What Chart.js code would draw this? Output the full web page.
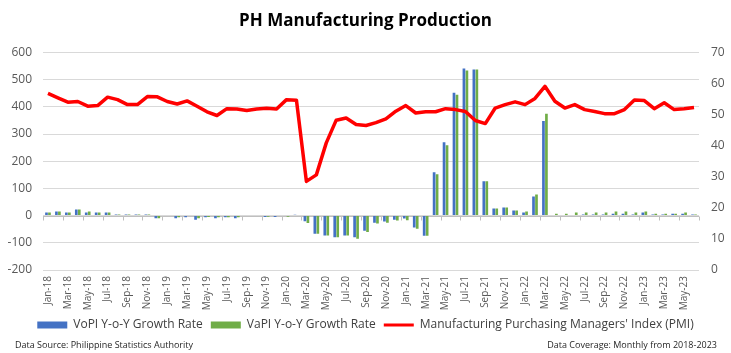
<!DOCTYPE html>
<html>
<head>
<meta charset="utf-8">
<title>PH Manufacturing Production</title>
<script src="https://cdn.jsdelivr.net/npm/chart.js@4.4.1/dist/chart.umd.min.js"></script>
<style>
  html, body { margin: 0; padding: 0; background: #fff; }
  #wrap { width: 731px; height: 353px; }
</style>
</head>
<body>
<div id="wrap"><canvas id="myChart" width="731" height="353"></canvas></div>
<script>
'use strict';

var months = [
  'Jan-18', 'Feb-18', 'Mar-18', 'Apr-18', 'May-18', 'Jun-18', 'Jul-18', 'Aug-18', 'Sep-18', 'Oct-18', 'Nov-18', 'Dec-18',
  'Jan-19', 'Feb-19', 'Mar-19', 'Apr-19', 'May-19', 'Jun-19', 'Jul-19', 'Aug-19', 'Sep-19', 'Oct-19', 'Nov-19', 'Dec-19',
  'Jan-20', 'Feb-20', 'Mar-20', 'Apr-20', 'May-20', 'Jun-20', 'Jul-20', 'Aug-20', 'Sep-20', 'Oct-20', 'Nov-20', 'Dec-20',
  'Jan-21', 'Feb-21', 'Mar-21', 'Apr-21', 'May-21', 'Jun-21', 'Jul-21', 'Aug-21', 'Sep-21', 'Oct-21', 'Nov-21', 'Dec-21',
  'Jan-22', 'Feb-22', 'Mar-22', 'Apr-22', 'May-22', 'Jun-22', 'Jul-22', 'Aug-22', 'Sep-22', 'Oct-22', 'Nov-22', 'Dec-22',
  'Jan-23', 'Feb-23', 'Mar-23', 'Apr-23', 'May-23', 'Jun-23'
];

// VoPI y-o-y growth rate (%)
var vopi = [
  11, 15, 11, 22, 11, 11, 11, 4, 4, 4, 4, -10,
  0, -10, -6, -15, -6, -10, -6, -10, 0, 0, -5, -5,
  0, 3, -21, -67, -73, -80, -73, -80, -56, -26, -22, -15,
  -11, -44, -74, 159, 270, 452, 541, 537, 126, 26, 30, 19,
  11, 70, 348, 0, 0, 0, 4, 4, 4, 7, 7, 4,
  11, 4, 4, 7, 7, 4
];

// VaPI y-o-y growth rate (%)
var vapi = [
  11, 15, 11, 22, 15, 11, 11, 4, 4, 4, 4, -10,
  0, -6, 0, -10, -5, -6, -6, -6, 0, 0, -4, 0,
  -4, 0, -27, -67, -73, -80, -73, -85, -60, -29, -26, -18,
  -17, -48, -74, 152, 259, 444, 533, 537, 126, 26, 30, 19,
  15, 78, 374, 7, 7, 11, 11, 11, 11, 15, 15, 11,
  15, 7, 7, 7, 11, 4
];

// Manufacturing PMI (right axis)
var pmi = [
  56.8, 55.4, 54.0, 54.2, 52.7, 52.9, 55.6, 54.8, 53.2, 53.2, 55.8, 55.7,
  54.2, 53.4, 54.4, 52.7, 50.9, 49.7, 51.9, 51.8, 51.3, 51.8, 52.0, 51.8,
  54.8, 54.6, 28.5, 30.6, 40.9, 48.2, 48.9, 46.8, 46.5, 47.4, 48.6, 51.1,
  52.9, 50.5, 50.9, 50.9, 51.9, 51.6, 51.0, 48.1, 47.1, 52.1, 53.2, 54.1,
  53.2, 55.2, 59.1, 54.3, 52.1, 53.2, 51.6, 51.0, 50.3, 50.3, 51.6, 54.7,
  54.5, 51.9, 53.8, 51.6, 51.9, 52.3
];

var leftTicks = { min: -200, max: 600, step: 100 };
var rightTicks = { min: 0, max: 70, step: 10 };

var sourceText = 'Data Source: Philippine Statistics Authority';
var coverageText = 'Data Coverage: Monthly from 2018-2023';

(function () {
  var fontFamily = '"Open Sans", "Liberation Sans", Arial, sans-serif';

  // Excel style category axis sitting on the zero line, with tick marks every 2 months
  var zeroAxisPlugin = {
    id: 'zeroAxis',
    beforeDatasetsDraw: function (chart) {
      var ctx = chart.ctx;
      var xs = chart.scales.x;
      var ys = chart.scales.y;
      var area = chart.chartArea;
      var y0 = Math.round(ys.getPixelForValue(0)) + 0.5;
      var half = (xs.getPixelForValue(1) - xs.getPixelForValue(0)) / 2;
      ctx.save();
      ctx.strokeStyle = '#bfbfbf';
      ctx.lineWidth = 1;
      ctx.beginPath();
      ctx.moveTo(area.left, y0);
      ctx.lineTo(area.right, y0);
      for (var i = 0; i <= months.length; i += 2) {
        var x = Math.round(xs.getPixelForValue(i) - half) + 0.5;
        ctx.moveTo(x, y0);
        ctx.lineTo(x, y0 + 4);
      }
      ctx.stroke();
      ctx.restore();
    }
  };

  var footerPlugin = {
    id: 'footerText',
    afterDraw: function (chart) {
      var ctx = chart.ctx;
      ctx.save();
      ctx.font = '9px ' + fontFamily;
      ctx.fillStyle = '#262626';
      ctx.textBaseline = 'middle';
      ctx.textAlign = 'left';
      ctx.fillText(sourceText, 15, chart.height - 8);
      ctx.textAlign = 'right';
      ctx.fillText(coverageText, chart.width - 14, chart.height - 8);
      ctx.restore();
    }
  };

  var data = {
    labels: months,
    datasets: [
      {
        type: 'bar',
        label: 'VoPI Y-o-Y Growth Rate',
        data: vopi,
        backgroundColor: '#4472c4',
        borderWidth: 0,
        yAxisID: 'y',
        order: 2,
        categoryPercentage: 0.6,
        barPercentage: 0.9
      },
      {
        type: 'bar',
        label: 'VaPI Y-o-Y Growth Rate',
        data: vapi,
        backgroundColor: '#70ad47',
        borderWidth: 0,
        yAxisID: 'y',
        order: 2,
        categoryPercentage: 0.6,
        barPercentage: 0.9
      },
      {
        type: 'line',
        label: "Manufacturing Purchasing Managers' Index (PMI)",
        data: pmi,
        borderColor: '#ff0000',
        backgroundColor: '#ff0000',
        borderWidth: 3.5,
        pointRadius: 0,
        tension: 0,
        borderJoinStyle: 'round',
        yAxisID: 'y1',
        order: 1
      }
    ]
  };

  var options = {
    responsive: false,
    animation: false,
    devicePixelRatio: 1,
    layout: { padding: { top: 0, left: 0, right: 0, bottom: 12 } },
    plugins: {
      title: {
        display: true,
        text: 'PH Manufacturing Production',
        color: '#000',
        font: { family: fontFamily, size: 17, weight: 'bold' },
        padding: { top: 11, bottom: 21 }
      },
      legend: {
        position: 'bottom',
        labels: {
          usePointStyle: true,
          pointStyleWidth: 30,
          boxHeight: 7,
          padding: 8,
          color: '#404040',
          font: { family: fontFamily, size: 12 },
          generateLabels: function (chart) {
            return chart.data.datasets.map(function (ds, i) {
              var isLine = ds.type === 'line';
              return {
                text: ds.label,
                fillStyle: ds.backgroundColor,
                strokeStyle: isLine ? ds.borderColor : ds.backgroundColor,
                lineWidth: isLine ? 3 : 0,
                pointStyle: isLine ? 'line' : 'rect',
                fontColor: '#404040',
                hidden: false,
                datasetIndex: i
              };
            });
          }
        }
      },
      tooltip: { enabled: false }
    },
    scales: {
      x: {
        grid: { display: false, drawTicks: false },
        border: { display: false },
        ticks: {
          autoSkip: false,
          minRotation: 90,
          maxRotation: 90,
          padding: 6,
          color: '#595959',
          font: { family: fontFamily, size: 10 },
          callback: function (value, index) {
            return index % 2 === 0 ? months[index] : '';
          }
        },
        afterFit: function (scale) { scale.height = 41; }
      },
      y: {
        position: 'left',
        min: leftTicks.min,
        max: leftTicks.max,
        grid: { color: '#d9d9d9', lineWidth: 1, drawTicks: false },
        border: { display: false },
        ticks: {
          stepSize: leftTicks.step,
          padding: 11,
          color: '#595959',
          font: { family: fontFamily, size: 12 }
        },
        afterFit: function (scale) { scale.width = 43; }
      },
      y1: {
        position: 'right',
        min: rightTicks.min,
        max: rightTicks.max,
        grid: { display: false, drawTicks: false },
        border: { display: false },
        ticks: {
          stepSize: rightTicks.step,
          padding: 12,
          color: '#595959',
          font: { family: fontFamily, size: 12 }
        },
        afterFit: function (scale) { scale.width = 32; }
      }
    }
  };

  var ctx = document.getElementById('myChart').getContext('2d');
  var myChart = new Chart(ctx, {
    type: 'bar',
    data: data,
    options: options,
    plugins: [zeroAxisPlugin, footerPlugin]
  });
})();
</script>
</body>
</html>
